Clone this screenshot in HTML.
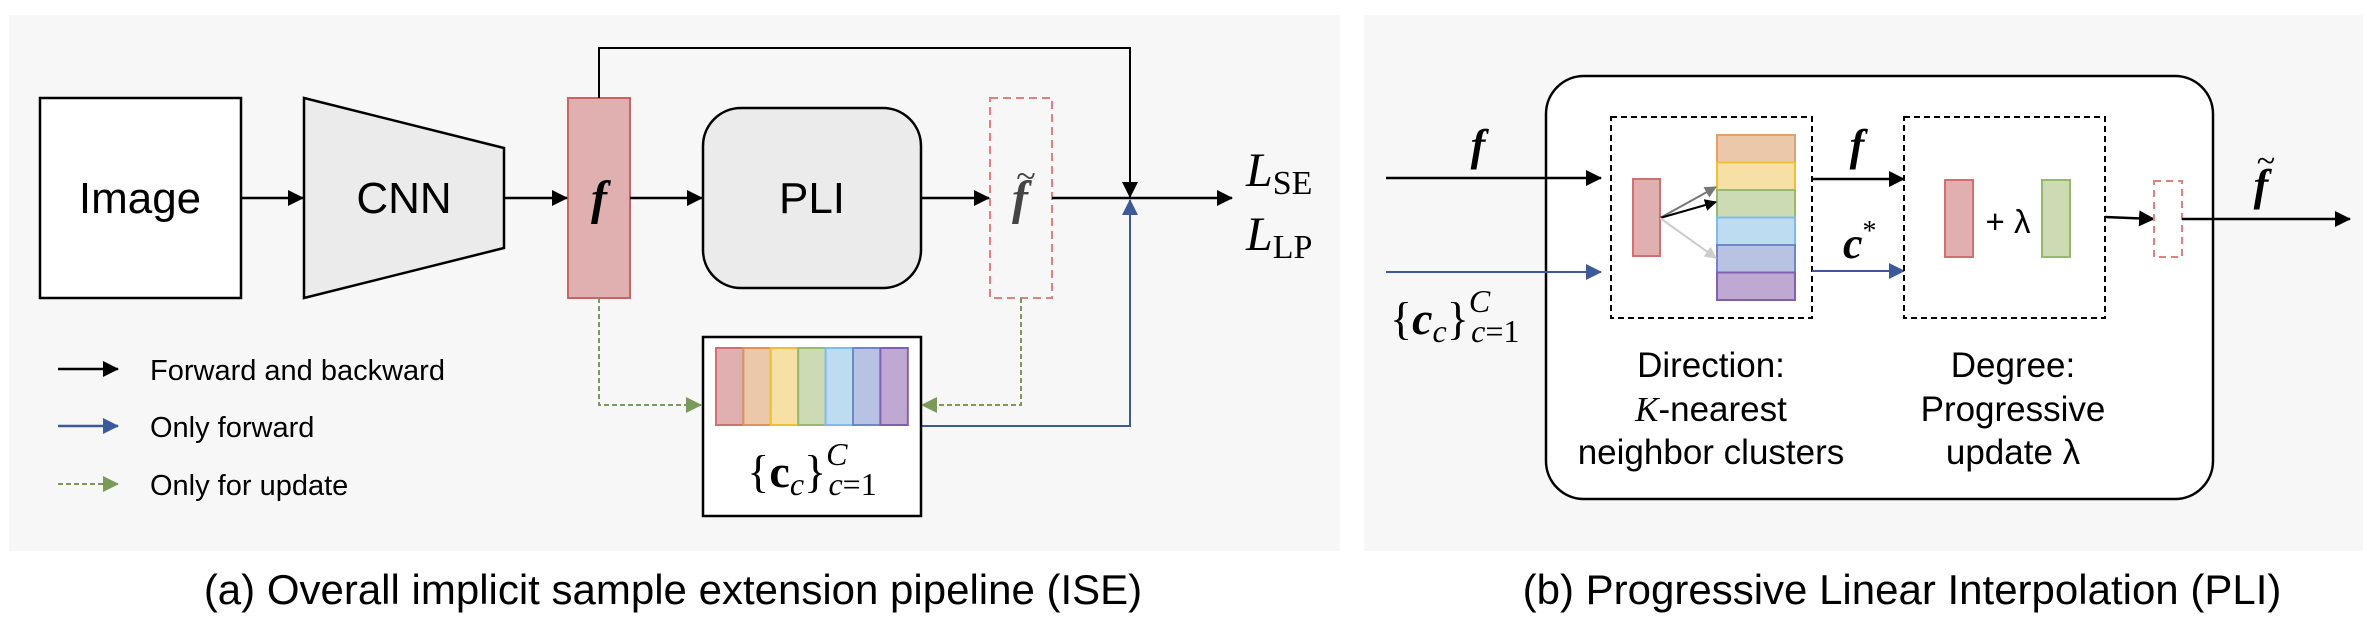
<!DOCTYPE html>
<html><head><meta charset="utf-8"><style>
html,body{margin:0;padding:0;background:#fff;}
svg{display:block;}
text{font-family:"Liberation Sans",sans-serif;}
.m{font-family:"Liberation Serif",serif;}
</style></head><body>
<svg width="2363" height="634" viewBox="0 0 2363 634" xmlns="http://www.w3.org/2000/svg">
<defs>
<marker id="ak" markerWidth="10" markerHeight="10" refX="9" refY="5" orient="auto" markerUnits="userSpaceOnUse" viewBox="0 0 10 10"><path d="M0,0L10,5L0,10z" fill="#000"/></marker>
<marker id="ak2" markerWidth="16" markerHeight="16" refX="15" refY="8" orient="auto" markerUnits="userSpaceOnUse" viewBox="0 0 16 16"><path d="M0,0L16,8L0,16z" fill="#000"/></marker>
<marker id="ab2" markerWidth="16" markerHeight="16" refX="15" refY="8" orient="auto" markerUnits="userSpaceOnUse" viewBox="0 0 16 16"><path d="M0,0L16,8L0,16z" fill="#3c5a9a"/></marker>
<marker id="ag2" markerWidth="16" markerHeight="16" refX="15" refY="8" orient="auto" markerUnits="userSpaceOnUse" viewBox="0 0 16 16"><path d="M0,0L16,8L0,16z" fill="#7a9a5a"/></marker>
<marker id="agr" markerWidth="12" markerHeight="12" refX="11" refY="6" orient="auto" markerUnits="userSpaceOnUse" viewBox="0 0 12 12"><path d="M0,0L12,6L0,12z" fill="#777"/></marker>
<marker id="alg" markerWidth="12" markerHeight="12" refX="11" refY="6" orient="auto" markerUnits="userSpaceOnUse" viewBox="0 0 12 12"><path d="M0,0L12,6L0,12z" fill="#ccc"/></marker>
<marker id="ak3" markerWidth="12" markerHeight="12" refX="11" refY="6" orient="auto" markerUnits="userSpaceOnUse" viewBox="0 0 12 12"><path d="M0,0L12,6L0,12z" fill="#000"/></marker>
</defs>

<g>
<rect x="9" y="15" width="1331" height="536" fill="#f7f7f7"/>
<rect x="40" y="98" width="201" height="200" fill="#fff" stroke="#000" stroke-width="2.5"/>
<text x="140" y="213" font-size="44" text-anchor="middle">Image</text>
<polygon points="304,98 504,148 504,248 304,298" fill="#ebebeb" stroke="#000" stroke-width="2.5"/>
<text x="404" y="213" font-size="44" text-anchor="middle">CNN</text>
<rect x="568" y="98" width="62" height="200" fill="#e0b0b0" stroke="#c86464" stroke-width="2"/>
<text class="m" x="599" y="214" font-size="48" font-style="italic" font-weight="bold" text-anchor="middle">f</text>
<rect x="703" y="108" width="218" height="180" rx="38" fill="#ebebeb" stroke="#000" stroke-width="2.5"/>
<text x="812" y="213" font-size="44" text-anchor="middle">PLI</text>
<rect x="990" y="98" width="62" height="200" fill="none" stroke="#e08080" stroke-width="2" stroke-dasharray="8,5"/>
<text class="m" x="1020" y="214" font-size="48" font-style="italic" font-weight="bold" fill="#444" text-anchor="middle">f</text>
<text class="m" x="1026" y="188" font-size="36" fill="#444" text-anchor="middle">~</text>

<line x1="241" y1="198" x2="303" y2="198" stroke="#000" stroke-width="2.5" marker-end="url(#ak2)"/>
<line x1="504" y1="198" x2="567" y2="198" stroke="#000" stroke-width="2.5" marker-end="url(#ak2)"/>
<line x1="630" y1="198" x2="702" y2="198" stroke="#000" stroke-width="2.5" marker-end="url(#ak2)"/>
<line x1="921" y1="198" x2="989" y2="198" stroke="#000" stroke-width="2.5" marker-end="url(#ak2)"/>
<line x1="1052" y1="198" x2="1232" y2="198" stroke="#000" stroke-width="2.5" marker-end="url(#ak2)"/>
<polyline points="599,98 599,48 1130,48 1130,197" fill="none" stroke="#000" stroke-width="2" marker-end="url(#ak2)"/>
<polyline points="921,426 1130,426 1130,200" fill="none" stroke="#3c5a9a" stroke-width="2" marker-end="url(#ab2)"/>
<polyline points="599,298 599,405 701,405" fill="none" stroke="#7a9a5a" stroke-width="2" stroke-dasharray="5,3" marker-end="url(#ag2)"/>
<polyline points="1021,298 1021,405 922,405" fill="none" stroke="#7a9a5a" stroke-width="2" stroke-dasharray="5,3" marker-end="url(#ag2)"/>

<text class="m" x="1246" y="186" font-size="48" font-style="italic">L<tspan font-size="34" font-style="normal" dy="8">SE</tspan></text>
<text class="m" x="1246" y="250" font-size="48" font-style="italic">L<tspan font-size="34" font-style="normal" dy="8">LP</tspan></text>

<rect x="703" y="337" width="218" height="179" fill="#fff" stroke="#000" stroke-width="2.5"/>
<g>
<rect x="716" y="348" width="27.4" height="77" fill="#e0b0b0" stroke="#d07070" stroke-width="2"/>
<rect x="743.4" y="348" width="27.4" height="77" fill="#ecc8ab" stroke="#e0905a" stroke-width="2"/>
<rect x="770.8" y="348" width="27.4" height="77" fill="#f6e0a6" stroke="#f0c030" stroke-width="2"/>
<rect x="798.2" y="348" width="27.4" height="77" fill="#ccdbb4" stroke="#98b870" stroke-width="2"/>
<rect x="825.6" y="348" width="27.4" height="77" fill="#bddcf2" stroke="#80bce8" stroke-width="2"/>
<rect x="853" y="348" width="27.4" height="77" fill="#b8c2e2" stroke="#6f86c8" stroke-width="2"/>
<rect x="880.4" y="348" width="27.4" height="77" fill="#bfa9d3" stroke="#8060b0" stroke-width="2"/>
</g>
<text class="m" x="812" y="487" font-size="46" text-anchor="middle">{<tspan font-weight="bold">c</tspan><tspan font-style="italic" font-size="32" dy="8">c</tspan><tspan dy="-8">}</tspan><tspan font-style="italic" font-size="32" dy="-22">C</tspan><tspan font-size="32" dx="-19" dy="30"><tspan font-style="italic">c</tspan>=1</tspan></text>

<g>
<line x1="58" y1="369" x2="118" y2="369" stroke="#000" stroke-width="2.5" marker-end="url(#ak2)"/>
<text x="150" y="380" font-size="29">Forward and backward</text>
<line x1="58" y1="426" x2="118" y2="426" stroke="#3c5a9a" stroke-width="2.5" marker-end="url(#ab2)"/>
<text x="150" y="437" font-size="29">Only forward</text>
<line x1="58" y1="484" x2="118" y2="484" stroke="#7a9a5a" stroke-width="2" stroke-dasharray="5,3" marker-end="url(#ag2)"/>
<text x="150" y="495" font-size="29">Only for update</text>
</g>
<text x="673" y="604" font-size="42" text-anchor="middle">(a) Overall implicit sample extension pipeline (ISE)</text>
</g>

<g>
<rect x="1364" y="15" width="999" height="536" fill="#f7f7f7"/>
<rect x="1546" y="76" width="667" height="423" rx="38" fill="#fff" stroke="#000" stroke-width="2.5"/>
<line x1="1386" y1="178" x2="1601" y2="178" stroke="#000" stroke-width="2.5" marker-end="url(#ak2)"/>
<text class="m" x="1478" y="160" font-size="44" font-style="italic" font-weight="bold" text-anchor="middle">f</text>
<line x1="1386" y1="272" x2="1601" y2="272" stroke="#3c5a9a" stroke-width="2" marker-end="url(#ab2)"/>
<text class="m" x="1390" y="334" font-size="46">{<tspan font-weight="bold" font-style="italic">c</tspan><tspan font-style="italic" font-size="32" dy="8">c</tspan><tspan dy="-8">}</tspan><tspan font-style="italic" font-size="32" dy="-22">C</tspan><tspan font-size="32" dx="-19" dy="30"><tspan font-style="italic">c</tspan>=1</tspan></text>

<rect x="1611" y="117" width="201" height="201" fill="none" stroke="#000" stroke-width="2" stroke-dasharray="6,4"/>
<rect x="1633" y="179" width="27" height="77" fill="#e0b0b0" stroke="#d07070" stroke-width="2"/>
<g>
<rect x="1717" y="135" width="78" height="27.5" fill="#ecc8ab" stroke="#e0a070" stroke-width="2"/>
<rect x="1717" y="162.5" width="78" height="27.5" fill="#f6e0a6" stroke="#f0c030" stroke-width="2"/>
<rect x="1717" y="190" width="78" height="27.5" fill="#ccdbb4" stroke="#98b870" stroke-width="2"/>
<rect x="1717" y="217.5" width="78" height="27.5" fill="#bddcf2" stroke="#80bce8" stroke-width="2"/>
<rect x="1717" y="245" width="78" height="27.5" fill="#b8c2e2" stroke="#6f86c8" stroke-width="2"/>
<rect x="1717" y="272.5" width="78" height="27.5" fill="#bfa9d3" stroke="#8060b0" stroke-width="2"/>
</g>
<line x1="1660" y1="218" x2="1716" y2="187" stroke="#777" stroke-width="2" marker-end="url(#agr)"/>
<line x1="1660" y1="218" x2="1716" y2="202" stroke="#000" stroke-width="2" marker-end="url(#ak3)"/>
<line x1="1660" y1="218" x2="1716" y2="258" stroke="#ccc" stroke-width="2" marker-end="url(#alg)"/>

<line x1="1812" y1="179" x2="1904" y2="179" stroke="#000" stroke-width="2.5" marker-end="url(#ak2)"/>
<text class="m" x="1857" y="160" font-size="44" font-style="italic" font-weight="bold" text-anchor="middle">f</text>
<line x1="1812" y1="271" x2="1904" y2="271" stroke="#3c5a9a" stroke-width="2" marker-end="url(#ab2)"/>
<text class="m" x="1843" y="258" font-size="44" font-style="italic" font-weight="bold">c<tspan font-size="28" font-weight="normal" font-style="normal" dy="-18">*</tspan></text>

<rect x="1904" y="117" width="201" height="201" fill="none" stroke="#000" stroke-width="2" stroke-dasharray="6,4"/>
<rect x="1945" y="180" width="28" height="77" fill="#e0b0b0" stroke="#d07070" stroke-width="2"/>
<text x="2008" y="233" font-size="33" text-anchor="middle">+ λ</text>
<rect x="2042" y="180" width="28" height="77" fill="#ccdbb4" stroke="#98b870" stroke-width="2"/>
<line x1="2105" y1="217" x2="2154" y2="219" stroke="#000" stroke-width="2.5" marker-end="url(#ak2)"/>
<rect x="2154" y="181" width="28" height="76" fill="none" stroke="#e08080" stroke-width="2" stroke-dasharray="7,5"/>
<line x1="2182" y1="219" x2="2350" y2="219" stroke="#000" stroke-width="2.5" marker-end="url(#ak2)"/>
<text class="m" x="2261" y="200" font-size="44" font-style="italic" font-weight="bold" text-anchor="middle">f</text>
<text class="m" x="2266" y="172" font-size="34" text-anchor="middle">~</text>

<g>
<text x="1711" y="377" font-size="35" text-anchor="middle">Direction:</text>
<text x="1711" y="421" font-size="35" text-anchor="middle"><tspan class="m" font-style="italic">K</tspan>-nearest</text>
<text x="1711" y="464" font-size="35" text-anchor="middle">neighbor clusters</text>
</g>
<g>
<text x="2013" y="377" font-size="35" text-anchor="middle">Degree:</text>
<text x="2013" y="421" font-size="35" text-anchor="middle">Progressive</text>
<text x="2013" y="464" font-size="35" text-anchor="middle">update λ</text>
</g>
<text x="1902" y="604" font-size="42" text-anchor="middle">(b) Progressive Linear Interpolation (PLI)</text>
</g>
</svg>
</body></html>
